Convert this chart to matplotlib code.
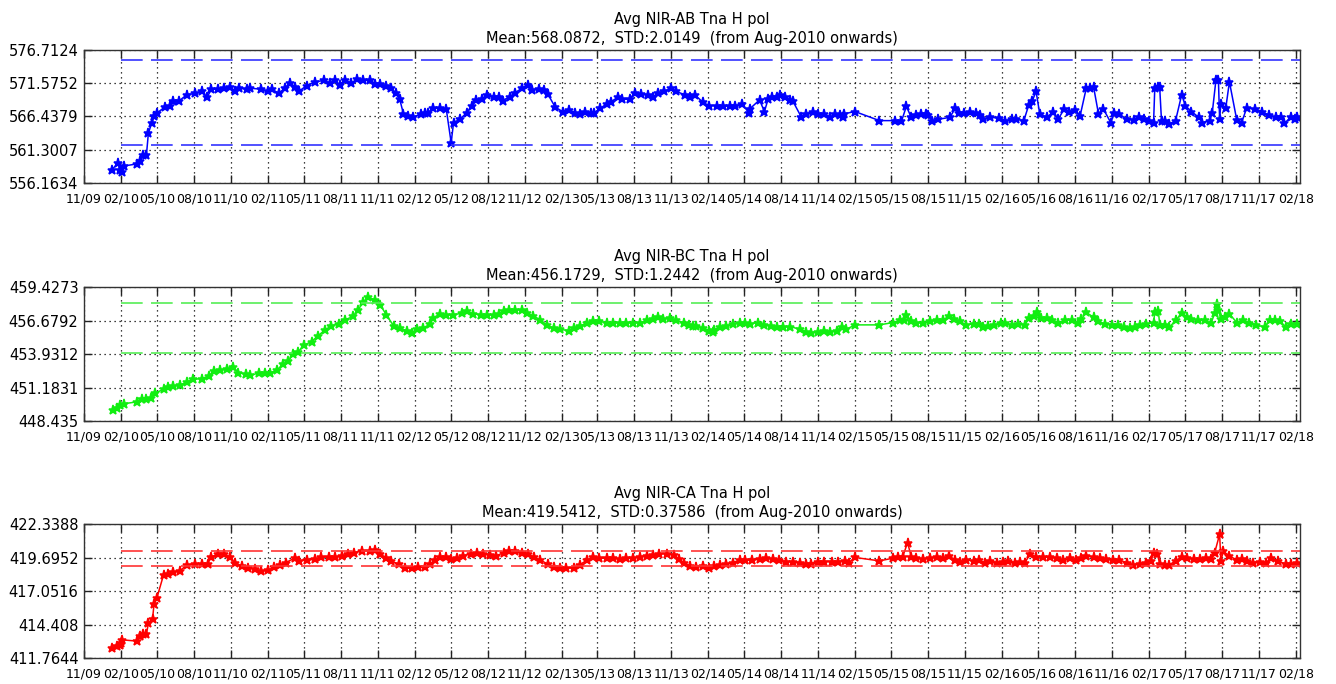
import matplotlib
matplotlib.use('Agg')
import matplotlib.pyplot as plt
import matplotlib.dates as mdates
import numpy as np
import pandas as pd

# time axis: months since 2009-11-01
start_date = pd.Timestamp('2009-11-01')

t_ab = [2.26, 2.8, 2.9, 3.1, 3.3, 4.3, 4.6, 4.85, 5.1, 5.26, 5.55, 5.75, 5.95, 6.6, 7.0, 7.3, 7.8, 8.4,
	9.1, 9.6, 10.06, 10.4, 10.95, 11.4, 11.9, 12.3, 12.7, 13.3, 13.6, 14.5, 15.0, 15.4, 15.9, 16.4,
	16.8, 17.2, 17.6, 18.2, 18.9, 19.6, 20.1, 20.5, 20.9, 21.3, 21.85, 22.3, 22.8, 23.4, 23.8, 24.2,
	24.7, 25.1, 25.5, 25.8, 26.1, 26.5, 26.9, 27.5, 27.85, 28.1, 28.5, 29.1, 29.6, 30.0, 30.2, 30.7,
	31.3, 31.7, 32.0, 32.5, 32.9, 33.5, 33.9, 34.2, 34.8, 35.2, 35.8, 36.25, 36.6, 37.2, 37.6, 37.9,
	38.5, 39.1, 39.6, 40.1, 40.5, 40.9, 41.4, 41.7, 42.2, 42.7, 43.1, 43.6, 44.0, 44.6, 45.0, 45.5,
	46.1, 46.5, 46.9, 47.4, 48.0, 48.4, 49.1, 49.5, 49.9, 50.6, 51.1, 51.7, 52.2, 52.8, 53.2, 53.8,
	54.3, 54.4, 55.2, 55.6, 55.9, 56.2, 56.6, 56.9, 57.3, 57.7, 57.9, 58.6, 59.0, 59.6, 60.0, 60.5,
	61.0, 61.4, 61.8, 62.0, 62.1, 63.0, 65.0, 66.3, 66.8, 67.2, 67.6, 68.0, 68.4, 68.8, 69.0, 69.3,
	69.8, 70.75, 71.2, 71.5, 71.9, 72.4, 72.9, 73.2, 73.5, 74.0, 74.75, 75.3, 75.8, 76.2, 76.8, 77.2,
	77.5, 77.8, 78.1, 78.7, 79.2, 79.6, 80.1, 80.5, 81.0, 81.4, 81.9, 82.2, 82.5, 82.9, 83.3, 83.9,
	84.2, 84.6, 85.2, 85.8, 86.2, 86.6, 87.0, 87.4, 87.5, 87.75, 87.9, 88.05, 88.3, 88.7, 89.2, 89.7,
	90.0, 90.5, 91.1, 91.4, 92.0, 92.2, 92.5, 92.7, 92.8, 92.9, 93.3, 93.6, 94.2, 94.6, 95.0, 95.7,
	96.3, 96.8, 97.4, 97.8, 98.1, 98.6, 99.0, 99.1]
v_ab = [558.2, 559.25, 558.1, 557.8, 558.8, 559.1, 559.5, 560.5, 560.5, 563.9, 565.5, 566.5, 566.95, 567.9,
	568.0, 568.9, 568.9, 569.8, 570.0, 570.3, 569.4, 570.65, 570.65, 570.8, 571.0, 570.4, 570.8, 570.65,
	570.8, 570.65, 570.3, 570.65, 570.0, 570.8, 571.6, 571.06, 570.4, 571.2, 571.8, 572.0, 571.6, 572.0,
	571.3, 572.1, 571.6, 572.25, 572.0, 572.0, 571.5, 571.4, 571.2, 570.8, 570.0, 569.1, 566.85, 566.5,
	566.3, 566.85, 567.0, 567.0, 567.7, 567.7, 567.6, 562.4, 565.5, 566.0, 567.05, 568.1, 569.0, 569.1,
	569.8, 569.5, 569.4, 568.9, 569.5, 570.1, 570.8, 571.3, 570.55, 570.65, 570.55, 569.9, 567.9, 567.2,
	567.5, 567.05, 566.85, 567.2, 566.95, 567.05, 567.7, 568.4, 568.75, 569.4, 569.1, 569.1, 570.1, 569.9,
	569.8, 569.4, 570.1, 570.3, 570.8, 570.3, 569.8, 569.5, 569.8, 568.6, 568.1, 568.1, 568.0, 568.1,
	568.1, 568.35, 567.05, 567.6, 569.0, 567.2, 569.1, 569.4, 569.4, 569.8, 569.4, 569.0, 568.9, 566.4,
	566.85, 567.2, 566.85, 566.85, 566.3, 566.85, 566.7, 566.3, 566.85, 567.2, 565.8, 565.8, 565.7, 568.0,
	566.3, 566.65, 566.85, 566.85, 566.65, 565.8, 566.0, 566.3, 567.7, 566.95, 566.95, 567.2, 566.95, 566.65,
	566.0, 566.3, 566.2, 565.8, 566.0, 566.0, 565.8, 568.2, 568.9, 570.3, 566.85, 566.3, 567.2, 566.0,
	567.6, 567.2, 567.4, 566.55, 570.8, 570.8, 571.0, 566.85, 567.6, 565.5, 566.95, 566.85, 566.0, 565.9,
	566.4, 566.0, 565.8, 565.4, 570.8, 571.0, 571.0, 565.8, 565.8, 565.3, 565.8, 569.8, 568.1, 567.2,
	566.3, 565.5, 565.8, 567.05, 572.1, 572.1, 566.0, 568.4, 567.7, 571.8, 565.9, 565.5, 567.7, 567.6,
	567.2, 566.65, 566.3, 566.3, 565.4, 566.3, 566.1, 566.3]

t_bc = [2.4, 2.7, 2.94, 3.3, 4.3, 4.7, 5.1, 5.5, 5.8, 6.5, 6.9, 7.3, 7.85, 8.4, 8.93, 9.6, 10.2, 10.6,
	11.1, 11.65, 12.2, 12.6, 13.2, 13.6, 14.3, 14.8, 15.2, 15.74, 16.3, 16.7, 17.1, 17.5, 18.0, 18.6,
	19.1, 19.7, 20.2, 20.8, 21.3, 22.0, 22.4, 22.8, 23.2, 23.8, 24.2, 24.7, 25.3, 25.8, 26.36, 26.8,
	27.2, 27.7, 28.3, 28.5, 29.1, 29.6, 30.17, 30.9, 31.3, 31.8, 32.4, 32.9, 33.5, 33.9, 34.3, 34.7,
	35.2, 35.8, 36.2, 36.7, 37.3, 37.8, 38.4, 38.9, 39.6, 40.0, 40.5, 41.1, 41.6, 42.1, 42.7, 43.2,
	43.8, 44.3, 44.9, 45.4, 46.0, 46.5, 46.9, 47.3, 47.9, 48.4, 49.0, 49.4, 49.8, 50.0, 50.6, 51.1,
	51.4, 51.5, 51.96, 52.5, 53.0, 53.6, 53.99, 54.4, 55.1, 55.6, 56.1, 56.6, 57.1, 57.7, 58.5, 59.0,
	59.4, 60.0, 60.5, 61.0, 61.5, 61.9, 62.3, 63.0, 65.0, 66.1, 66.7, 67.0, 67.2, 67.6, 68.0, 68.6,
	69.1, 69.7, 70.2, 70.7, 71.1, 71.6, 72.1, 72.7, 73.1, 73.5, 73.9, 74.4, 74.9, 75.3, 75.8, 76.3,
	76.9, 77.2, 77.6, 77.9, 78.2, 78.7, 79.1, 79.6, 80.2, 80.7, 81.2, 81.5, 81.9, 82.5, 82.9, 83.4,
	84.0, 84.5, 85.0, 85.5, 85.9, 86.3, 86.8, 87.4, 87.5, 87.8, 87.9, 88.3, 88.7, 89.2, 89.7, 90.1,
	90.5, 91.0, 91.6, 92.1, 92.4, 92.6, 92.7, 92.9, 93.2, 93.6, 94.2, 94.7, 95.2, 95.8, 96.5, 96.9,
	97.3, 97.7, 98.2, 98.6, 99.1]
v_bc = [449.37, 449.53, 449.73, 449.86, 450.0, 450.28, 450.28, 450.36, 450.74, 451.02, 451.24, 451.29,
	451.38, 451.65, 451.84, 451.92, 452.12, 452.56, 452.61, 452.67, 452.89, 452.39, 452.28, 452.17,
	452.39, 452.34, 452.39, 452.61, 453.1, 453.38, 453.93, 454.12, 454.67, 454.95, 455.41, 455.91,
	456.24, 456.4, 456.73, 457.01, 457.56, 458.16, 458.58, 458.38, 457.97, 457.15, 456.24, 456.05,
	455.85, 455.69, 455.96, 456.05, 456.4, 456.87, 457.23, 457.15, 457.15, 457.28, 457.42, 457.23,
	457.15, 457.15, 457.15, 457.23, 457.42, 457.56, 457.56, 457.56, 457.28, 457.06, 456.73, 456.32,
	456.05, 455.96, 455.85, 456.05, 456.24, 456.46, 456.6, 456.6, 456.51, 456.51, 456.51, 456.51,
	456.51, 456.51, 456.68, 456.79, 456.95, 456.79, 456.87, 456.68, 456.51, 456.32, 456.24, 456.24,
	456.05, 455.85, 455.77, 455.9, 456.18, 456.24, 456.4, 456.46, 456.51, 456.4, 456.51, 456.32,
	456.24, 456.18, 456.18, 456.18, 455.96, 455.77, 455.69, 455.77, 455.85, 455.77, 455.85, 456.18,
	455.96, 456.32, 456.32, 456.51, 456.68, 456.73, 457.15, 456.6, 456.51, 456.51, 456.6, 456.68,
	456.73, 457.06, 456.79, 456.6, 456.32, 456.4, 456.4, 456.13, 456.24, 456.32, 456.46, 456.46,
	456.32, 456.4, 456.32, 456.87, 457.06, 457.34, 456.87, 456.87, 456.73, 456.51, 456.68, 456.73,
	456.51, 456.79, 457.34, 456.95, 456.6, 456.4, 456.32, 456.32, 456.13, 456.05, 456.13, 456.32,
	456.4, 456.51, 457.34, 457.42, 456.32, 456.32, 456.13, 456.68, 457.28, 456.95, 456.79, 456.68,
	456.68, 456.46, 457.28, 458.05, 457.56, 456.79, 456.95, 457.23, 456.51, 456.73, 456.51, 456.32,
	456.13, 456.73, 456.68, 456.6, 456.18, 456.4, 456.4]

t_ca = [2.3, 2.7, 2.94, 3.05, 3.1, 4.3, 4.6, 4.85, 5.1, 5.26, 5.6, 5.72, 5.95, 6.5, 6.9, 7.3, 7.85, 8.4,
	9.07, 9.6, 10.1, 10.4, 10.95, 11.4, 11.9, 12.3, 12.88, 13.4, 14.0, 14.5, 15.06, 15.5, 16.0, 16.5,
	17.2, 17.6, 18.2, 18.9, 19.4, 20.0, 20.5, 21.1, 21.6, 22.1, 22.7, 23.4, 23.8, 24.2, 24.7, 25.1,
	25.7, 26.2, 26.8, 27.3, 27.86, 28.3, 28.7, 29.1, 29.6, 30.0, 30.5, 31.0, 31.6, 32.1, 32.6, 33.2,
	33.7, 34.3, 34.7, 35.2, 35.8, 36.3, 36.8, 37.3, 37.9, 38.4, 38.9, 39.4, 40.0, 40.5, 41.1, 41.6,
	42.1, 42.7, 43.2, 43.8, 44.3, 44.9, 45.4, 46.0, 46.5, 47.0, 47.6, 48.2, 48.6, 49.0, 49.5, 50.0,
	50.6, 51.1, 51.5, 51.96, 52.5, 53.0, 53.6, 54.0, 54.6, 55.2, 55.7, 56.3, 56.8, 57.4, 57.9, 58.5,
	59.0, 59.4, 60.0, 60.5, 61.1, 61.6, 62.2, 62.5, 63.0, 65.0, 66.1, 66.5, 66.9, 67.3, 67.6, 68.0,
	68.6, 69.1, 69.7, 70.2, 70.7, 71.2, 71.6, 72.1, 72.7, 73.1, 73.6, 74.0, 74.6, 75.1, 75.5, 76.1,
	76.5, 76.9, 77.3, 77.8, 78.4, 78.9, 79.5, 80.0, 80.6, 81.1, 81.5, 81.9, 82.5, 83.0, 83.5, 84.1,
	84.6, 85.2, 85.7, 86.3, 86.8, 87.2, 87.4, 87.7, 87.9, 88.3, 88.7, 89.2, 89.7, 90.1, 90.7, 91.2,
	91.7, 92.1, 92.4, 92.8, 92.9, 93.1, 93.6, 94.2, 94.6, 95.0, 95.5, 96.1, 96.6, 97.0, 97.6, 98.2,
	98.6, 99.1]
v_ca = [412.58, 412.68, 412.76, 412.94, 413.2, 413.1, 413.47, 413.62, 413.67, 414.51, 414.85, 416.03,
	416.5, 418.33, 418.39, 418.52, 418.65, 419.12, 419.17, 419.22, 419.22, 419.75, 419.96, 419.96,
	419.75, 419.3, 419.04, 418.86, 418.78, 418.6, 418.7, 418.91, 419.12, 419.3, 419.64, 419.43, 419.49,
	419.56, 419.7, 419.75, 419.7, 419.83, 419.96, 420.09, 420.22, 420.22, 420.27, 420.01, 419.64, 419.43,
	419.17, 418.86, 418.86, 418.91, 418.91, 419.17, 419.49, 419.75, 419.75, 419.56, 419.64, 419.83,
	420.01, 420.09, 420.01, 419.9, 419.83, 420.09, 420.22, 420.17, 420.09, 419.96, 419.7, 419.49, 419.17,
	418.96, 418.86, 418.86, 418.86, 419.12, 419.49, 419.7, 419.64, 419.64, 419.64, 419.56, 419.64, 419.64,
	419.75, 419.83, 419.9, 419.96, 420.01, 419.9, 419.56, 419.3, 419.04, 418.96, 419.04, 418.86, 419.04,
	419.12, 419.17, 419.3, 419.49, 419.49, 419.49, 419.56, 419.64, 419.56, 419.49, 419.38, 419.38, 419.3,
	419.17, 419.22, 419.38, 419.38, 419.38, 419.38, 419.43, 419.3, 419.7, 419.43, 419.64, 419.75, 419.75,
	420.87, 419.75, 419.64, 419.56, 419.64, 419.7, 419.64, 419.83, 419.49, 419.38, 419.49, 419.43, 419.49,
	419.3, 419.43, 419.3, 419.38, 419.43, 419.3, 419.38, 419.3, 419.96, 419.75, 419.75, 419.7, 419.64,
	419.49, 419.64, 419.49, 419.64, 419.83, 419.7, 419.64, 419.56, 419.49, 419.49, 419.3, 419.12, 419.22,
	419.3, 419.43, 420.09, 420.01, 419.22, 419.12, 419.12, 419.43, 419.75, 419.64, 419.56, 419.56, 419.64,
	419.56, 420.09, 421.53, 419.43, 420.17, 419.83, 419.49, 419.56, 419.43, 419.3, 419.38, 419.3, 419.64,
	419.43, 419.17, 419.17, 419.3]

titles = ['Avg NIR-AB Tna H pol', 'Avg NIR-BC Tna H pol', 'Avg NIR-CA Tna H pol']
stats = ['Mean:568.0872,  STD:2.0149  (from Aug-2010 onwards)',
	'Mean:456.1729,  STD:1.2442  (from Aug-2010 onwards)',
	'Mean:419.5412,  STD:0.37586  (from Aug-2010 onwards)']
ytick_labels = [['556.1634', '561.3007', '566.4379', '571.5752', '576.7124'],
	['448.435', '451.1831', '453.9312', '456.6792', '459.4273'],
	['411.7644', '414.408', '417.0516', '419.6952', '422.3388']]
limits_hi = [575.2, 458.09, 420.23]
limits_lo = [562.1, 454.0, 419.05]
colors = ['#0000ff', '#11ee11', '#ff0000']
dash_colors = ['#3333ff', '#55ee55', '#ff3333']


def to_dates(months):
	return [start_date + pd.Timedelta(days=m * 30.4375) for m in months]


fig = plt.figure(figsize=(13.36, 6.84), dpi=100)
plt.rcParams['font.family'] = 'DejaVu Sans'
positions = [[0.0629, 0.7325, 0.910, 0.1944], [0.0629, 0.3845, 0.910, 0.1959],
	[0.0629, 0.0380, 0.910, 0.1959]]
series = [(t_ab, v_ab), (t_bc, v_bc), (t_ca, v_ca)]

xticks = pd.date_range('2009-11-01', '2018-02-01', freq='3MS')
x_left = pd.Timestamp('2009-11-01')
x_right = pd.Timestamp('2018-02-11')

for i in range(3):
	ax = fig.add_axes(positions[i])
	t, v = series[i]
	ax.plot(to_dates(t), v, '-', marker='*', color=colors[i], lw=1.1, ms=6.5, mew=1.1)
	yt = [float(s) for s in ytick_labels[i]]
	for lvl in (limits_hi[i], limits_lo[i]):
		ax.plot([pd.Timestamp('2010-02-01'), x_right], [lvl, lvl], color=dash_colors[i],
			lw=1.2, dashes=(13, 5))
	ax.set_ylim(yt[0], yt[-1])
	ax.set_yticks(yt)
	ax.set_yticklabels(ytick_labels[i])
	ax.set_xlim(x_left, x_right)
	ax.set_xticks(xticks)
	ax.xaxis.set_major_formatter(mdates.DateFormatter('%m/%y'))
	ax.grid(True, color='black', linestyle=(0, (1, 3)), lw=0.9)
	ax.tick_params(direction='in', length=6, width=1, top=True, right=True,
		labelsize=10.5, pad=4, colors='#222222', labelcolor='black')
	ax.tick_params(axis='x', labelsize=9, pad=7)
	for sp in ax.spines.values():
		sp.set_color('#333333')
		sp.set_linewidth(1.0)
	ax.set_title(titles[i] + '\n' + stats[i], fontsize=10.5, linespacing=1.35, pad=5)

fig.savefig('out.png', dpi=100)
